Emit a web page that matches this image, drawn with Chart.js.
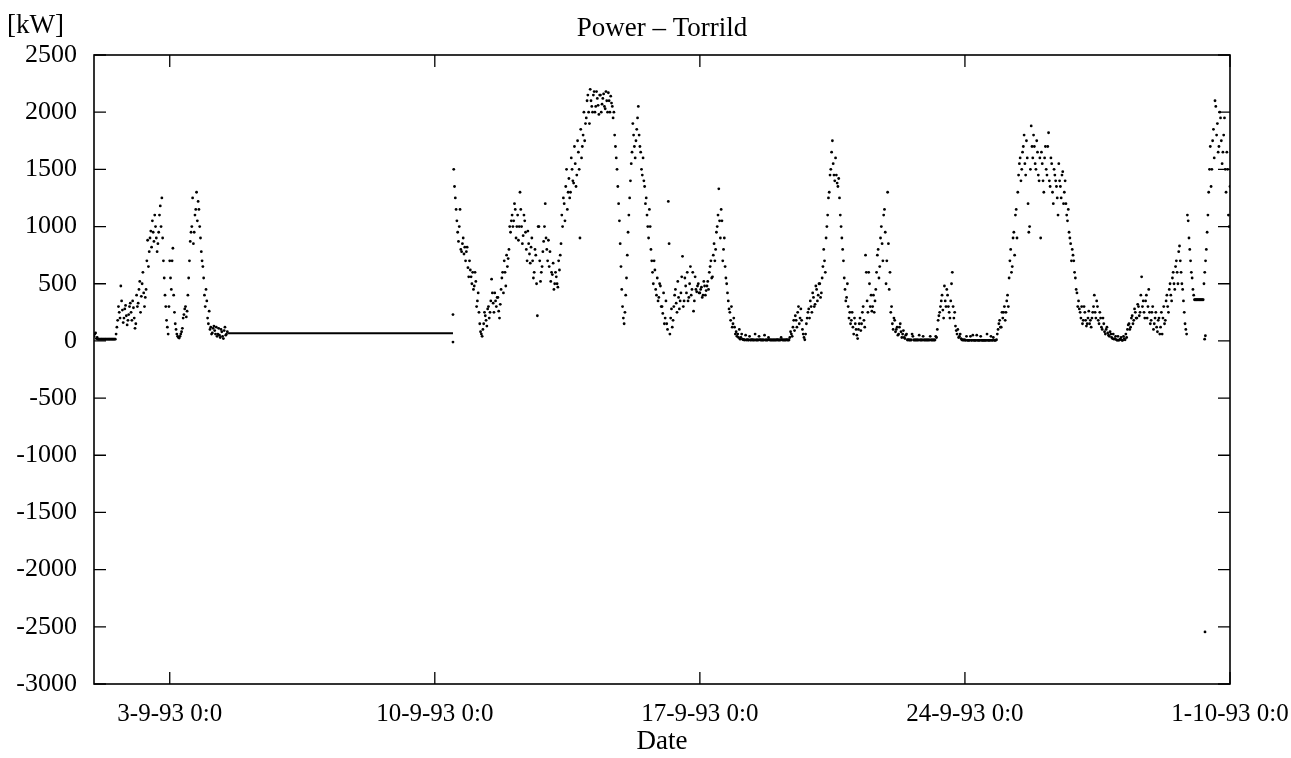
<!DOCTYPE html>
<html>
<head>
<meta charset="utf-8">
<script src="https://cdn.jsdelivr.net/npm/chart.js@4.4.1/dist/chart.umd.min.js"></script>
<style>
  html, body { margin: 0; padding: 0; background: #ffffff; }
  #wrap { width: 1291px; height: 758px; position: relative; }
</style>
</head>
<body>
<div id="wrap"><canvas id="c" width="1291" height="758"></canvas></div>
<script>
// ---------- DATA (x in days since 1-9-93 0:0) ----------
const chartTitle = 'Power – Torrild';
const yUnit = '[kW]';
const xTitle = 'Date';
const tickDays = [2, 9, 16, 23, 30];
const tickLabels = ['3-9-93 0:0', '10-9-93 0:0', '17-9-93 0:0', '24-9-93 0:0', '1-10-93 0:0'];
const yMin = -3000, yMax = 2500, yStep = 500;
const hour = 1 / 24;

// 1-9-93 0:0 .. 4-9-93 12:0 (readings on the hour, and on the half hour)
const startSep01 = 0;
const powerSep01 = [
  40, 70, 30, 15, 15, 15, 15, 15, 15, 15, 15, 15, 15, 15, 60, 180, 250, 480, 270, 200, 310, 140, 230, 330,
  180, 290, 110, 400, 330, 520, 390, 600, 300, 450, 880, 780, 960, 1050, 870, 1000, 780, 950, 1180, 1250, 700, 400, 180, 60,
  700, 450, 810, 250, 100, 40, 25, 60, 110, 230, 300, 260, 550, 870, 1000, 850, 1100, 1300, 1220, 1000, 780, 650, 400, 450,
  200, 260, 120, 70, 130, 60, 40, 110, 30, 80, 20, 120, 60
];
const powerSep01Half = [
  60, 20, 15, 15, 15, 15, 15, 15, 15, 15, 15, 15, 15, 15, 120, 300, 200, 350, 160, 280, 220, 180, 300, 250,
  350, 200, 150, 300, 450, 250, 500, 420, 380, 700, 650, 900, 820, 950, 1100, 900, 850, 1100, 1000, 900, 550, 300, 120, 300,
  550, 700, 400, 150, 60, 30, 40, 80, 200, 280, 210, 400, 700, 950, 1250, 950, 1150, 1050, 1150, 900, 700, 550, 300, 350,
  150, 100, 60, 110, 90, 120, 60, 50, 100, 40, 90, 50, 80
];

// constant reading while the logger was idle
const idleStart = 3.54, idleEnd = 9.48, idleLevel = 68;

// 10-9-93 12:0 .. 16-9-93 23:30
const startSep10 = 9.5;
const powerSep10 = [
  1500, 1250, 1050, 870, 1150, 780, 900, 820, 780, 640, 700, 560,
  600, 480, 520, 350, 250, 80, 40, 150, 220, 130, 300, 250, 540, 330, 420, 300, 380, 200, 450, 600, 700, 480, 650, 800,
  950, 1100, 1050, 1150, 1000, 880, 1300, 1000, 920, 1050, 800, 960, 760, 820, 700, 600, 750, 220, 1000, 520, 650, 870, 1200, 800,
  880, 780, 600, 680, 500, 560, 470, 620, 850, 1000, 1200, 1350, 1150, 1420, 1300, 1500, 1380, 1550, 1450, 1650, 900, 1600, 1800, 1750,
  1950, 2150, 1900, 2100, 2000, 2180, 2050, 2120, 1980, 2150, 2070, 2160, 2030, 2100, 2170, 2000, 2080, 1950, 1800, 1600, 1350, 1050, 650, 300,
  150, 400, 750, 1100, 1400, 1650, 1800, 1600, 1850, 2050, 1700, 1500, 1600, 1350, 1250, 1000, 1150, 800, 600, 700, 450, 550, 380, 480,
  300, 420, 200, 150, 1220, 60, 280, 180, 400, 330, 520, 280, 420, 740, 350, 480, 600, 380, 650, 450, 260, 560, 430, 500
];
const powerSep10Half = [
  1350, 1150, 950, 1000, 800, 850, 760, 700, 820, 560, 620, 500,
  450, 600, 300, 420, 150, 60, 100, 250, 180, 280, 200, 350, 420, 250, 350, 380, 260, 320, 550, 420, 600, 750, 720, 1000,
  1050, 1000, 1200, 900, 1100, 1000, 1150, 850, 1100, 950, 700, 850, 680, 900, 550, 800, 500, 1000, 700, 600, 780, 1000, 900, 700,
  650, 520, 580, 450, 600, 500, 700, 750, 1100, 1250, 1050, 1500, 1300, 1250, 1600, 1400, 1700, 1350, 1750, 1500, 1850, 1700, 2000, 1900,
  2100, 2000, 2200, 2050, 2150, 2000, 2180, 2060, 2150, 2000, 2120, 2050, 2180, 2000, 2100, 2140, 2050, 2000, 1700, 1500, 1200, 850, 450, 200,
  250, 550, 950, 1250, 1550, 1900, 1700, 1750, 1950, 1800, 1650, 1450, 1400, 1200, 1100, 900, 1000, 700, 500, 620, 400, 350, 500, 300,
  240, 150, 350, 100, 850, 200, 120, 300, 450, 250, 380, 350, 560, 300, 550, 420, 350, 500, 400, 600, 350, 450, 480, 420
];

// 17-9-93 0:0 .. 23-9-93 23:30
const startSep17 = 16;
const powerSep17 = [
  420, 470, 400, 480, 440, 520, 600, 700, 560, 850, 800, 1000, 1330, 900, 1050, 800, 650, 500, 350, 250, 300, 150, 120, 80,
  60, 100, 30, 15, 10, 50, 10, 8, 8, 10, 8, 60, 8, 8, 10, 8, 8, 50, 8, 8, 10, 8, 8, 8,
  8, 10, 8, 8, 10, 8, 8, 10, 8, 30, 60, 120, 90, 180, 250, 150, 280, 100, 30, 60, 200, 280, 350, 250,
  380, 320, 450, 400, 500, 420, 650, 700, 900, 1100, 1300, 1500, 1750, 1450, 1600, 1380, 1420, 1100, 900, 700, 450, 380, 300, 250,
  180, 120, 200, 100, 20, 150, 90, 250, 180, 750, 350, 600, 300, 260, 400, 350, 600, 800, 650, 1000, 700, 1150, 500, 1300,
  450, 250, 150, 200, 80, 120, 60, 150, 30, 90, 20, 60, 10, 8, 8, 40, 8, 8, 8, 50, 8, 8, 8, 8,
  8, 8, 40, 8, 8, 8, 30, 180, 250, 350, 270, 480, 300, 400, 250, 350, 600, 200, 130, 60, 30, 60, 10, 8
];
const powerSep17Half = [
  450, 380, 520, 400, 480, 450, 650, 550, 750, 700, 950, 1100, 1050, 1150, 700, 900, 550, 420, 280, 180, 120, 200, 60, 40,
  30, 15, 60, 10, 8, 8, 8, 40, 8, 8, 8, 8, 8, 40, 8, 8, 8, 8, 8, 30, 8, 8, 8, 8,
  8, 8, 8, 30, 8, 8, 8, 8, 8, 80, 40, 180, 220, 120, 300, 200, 180, 60, 10, 150, 250, 200, 300, 420,
  300, 480, 350, 500, 380, 550, 800, 600, 1000, 1250, 1450, 1650, 1550, 1400, 1450, 1350, 1250, 1000, 800, 550, 350, 500, 200, 150,
  250, 60, 150, 50, 100, 200, 150, 300, 120, 600, 250, 500, 400, 300, 250, 450, 750, 550, 900, 850, 1100, 950, 700, 850,
  600, 300, 100, 180, 100, 50, 120, 80, 60, 30, 50, 8, 8, 8, 60, 8, 8, 8, 8, 8, 8, 40, 8, 8,
  8, 8, 8, 8, 8, 40, 100, 220, 300, 400, 200, 350, 450, 300, 200, 500, 300, 250, 90, 100, 40, 20, 8, 8
];

// 24-9-93 0:0 .. 1-10-93 0:0
const startSep24 = 23;
const powerSep24 = [
  8, 40, 5, 5, 5, 50, 5, 5, 5, 5, 40, 5, 5, 5, 60, 5, 5, 5, 30, 5, 10, 100, 180, 120,
  200, 300, 250, 400, 550, 800, 650, 950, 1100, 900, 1450, 1600, 1500, 1700, 1550, 1750, 1200, 1000, 1880, 1600, 1700, 1500, 1650, 1400,
  900, 1550, 1300, 1700, 1450, 1820, 1350, 1550, 1200, 1450, 1350, 1100, 1400, 1250, 1480, 1300, 1200, 1050, 950, 850, 800, 700, 550, 420,
  350, 250, 300, 180, 250, 130, 200, 150, 120, 250, 400, 200, 300, 150, 200, 100, 150, 60, 120, 50, 80, 30, 60, 20,
  10, 40, 10, 30, 5, 20, 60, 100, 150, 120, 220, 180, 250, 200, 300, 250, 560, 350, 200, 400, 300, 250, 180, 300,
  150, 250, 80, 200, 120, 60, 300, 180, 400, 250, 500, 350, 600, 450, 700, 500, 830, 600, 450, 250, 100, 1100, 900, 700,
  550, 400, 360, 360, 360, 360, 360, 360, 600, 800, 1100, 1500, 1350, 1750, 1600, 2050, 1900, 1700, 1950, 1550, 1800, 1500, 1650, 1100,
  1350
];
const powerSep24Half = [
  5, 5, 5, 40, 5, 5, 5, 50, 5, 5, 5, 5, 5, 5, 5, 5, 40, 5, 5, 5, 60, 150, 120, 250,
  250, 180, 350, 300, 700, 600, 900, 750, 1150, 1300, 1550, 1400, 1650, 1800, 1450, 1600, 950, 1500, 1700, 1800, 1550, 1750, 1450, 1600,
  1650, 1400, 1600, 1500, 1700, 1400, 1600, 1300, 1500, 1400, 1250, 1550, 1350, 1450, 1200, 1400, 1100, 1150, 900, 700, 750, 600, 450, 300,
  280, 200, 150, 300, 180, 150, 260, 180, 200, 300, 250, 350, 180, 250, 120, 200, 80, 100, 70, 40, 60, 20, 15, 40,
  5, 5, 15, 5, 40, 10, 30, 140, 100, 200, 150, 280, 200, 320, 220, 400, 300, 250, 350, 200, 450, 150, 250, 100,
  200, 120, 180, 60, 250, 200, 150, 350, 300, 450, 400, 550, 500, 650, 600, 780, 700, 500, 350, 150, 60, 1050, 800, 600,
  450, 360, 360, 360, 360, 360, 360, 500, 700, 950, 1300, 1700, 1500, 1850, 2100, 1800, 1650, 2000, 1750, 1650, 1950, 1300, 1500, 1000
];

// isolated readings
const strayDays = [9.48, 9.48, 29.33, 29.35, 29.34];
const strayPower = [230, -10, 15, 45, -2545];

// ---------- BUILD ----------
function sampled(start, values, offset) {
  return values.map((v, i) => ({ x: start + (i + offset) * hour, y: v }));
}
const dots = []
  .concat(sampled(startSep01, powerSep01, 0), sampled(startSep01, powerSep01Half, 0.5))
  .concat(sampled(startSep10, powerSep10, 0), sampled(startSep10, powerSep10Half, 0.5))
  .concat(sampled(startSep17, powerSep17, 0), sampled(startSep17, powerSep17Half, 0.5))
  .concat(sampled(startSep24, powerSep24, 0), sampled(startSep24, powerSep24Half, 0.5))
  .concat(strayDays.map((d, i) => ({ x: d, y: strayPower[i] })));

const serif = '"Liberation Serif", "Times New Roman", serif';
const plotLeft = 94, plotRight = 1230, plotBottom = 684;

const framePlugin = {
  id: 'frame',
  afterDatasetsDraw(chart) {
    const { ctx, chartArea: a, scales: { x, y } } = chart;
    ctx.save();
    ctx.strokeStyle = '#000';
    ctx.lineWidth = 1.6;
    ctx.strokeRect(a.left, a.top, a.right - a.left, a.bottom - a.top);
    ctx.lineWidth = 1.3;
    ctx.beginPath();
    const tl = 12;
    x.ticks.forEach(t => {
      const px = x.getPixelForValue(t.value);
      ctx.moveTo(px, a.bottom); ctx.lineTo(px, a.bottom - tl);
      ctx.moveTo(px, a.top); ctx.lineTo(px, a.top + tl);
    });
    y.ticks.forEach(t => {
      const py = y.getPixelForValue(t.value);
      ctx.moveTo(a.left, py); ctx.lineTo(a.left + tl, py);
      ctx.moveTo(a.right, py); ctx.lineTo(a.right - tl, py);
    });
    ctx.stroke();
    ctx.fillStyle = '#000';
    ctx.font = '27px ' + serif;
    ctx.textAlign = 'left';
    ctx.textBaseline = 'alphabetic';
    ctx.fillText(yUnit, a.left - 87, 33);
    ctx.restore();
  }
};

new Chart(document.getElementById('c'), {
  type: 'scatter',
  data: {
    datasets: [
      {
        data: dots,
        pointRadius: 1.4,
        pointHoverRadius: 1.4,
        pointBorderWidth: 0,
        pointBackgroundColor: '#000',
        showLine: false
      },
      {
        data: [{ x: idleStart, y: idleLevel }, { x: idleEnd, y: idleLevel }],
        showLine: true,
        borderColor: '#000',
        borderWidth: 2,
        pointRadius: 0
      }
    ]
  },
  options: {
    responsive: false,
    animation: false,
    layout: { padding: { left: 0, right: 1291 - plotRight, top: 0, bottom: 0 } },
    plugins: {
      legend: { display: false },
      tooltip: { enabled: false },
      title: {
        display: true,
        text: chartTitle,
        fullSize: false,
        color: '#000',
        font: { family: serif, size: 27, weight: 'normal', lineHeight: 1.2 },
        padding: { top: 13, bottom: 9.6 }
      }
    },
    scales: {
      x: {
        type: 'linear',
        min: 0,
        max: 30,
        grid: { display: false, drawTicks: false },
        border: { display: false },
        afterFit(s) { s.height = 758 - plotBottom; s.paddingLeft = 0; s.paddingRight = 0; },
        afterBuildTicks(s) { s.ticks = tickDays.map(v => ({ value: v })); },
        ticks: {
          autoSkip: false,
          maxRotation: 0,
          padding: 15,
          color: '#000',
          font: { family: serif, size: 25 },
          callback: v => tickLabels[tickDays.indexOf(v)]
        },
        title: {
          display: true,
          text: xTitle,
          color: '#000',
          padding: { top: 0, bottom: 0 },
          font: { family: serif, size: 27, lineHeight: 1.2 }
        }
      },
      y: {
        min: yMin,
        max: yMax,
        grid: { display: false, drawTicks: false },
        border: { display: false },
        afterFit(s) { s.width = plotLeft; },
        ticks: {
          stepSize: yStep,
          padding: 17,
          color: '#000',
          font: { family: serif, size: 26 },
          callback: v => String(v)
        }
      }
    }
  },
  plugins: [framePlugin]
});
</script>
</body>
</html>
